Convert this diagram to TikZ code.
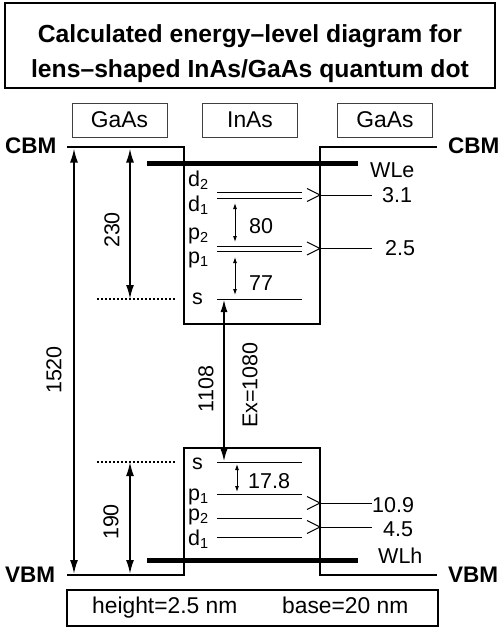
\documentclass[tikz,border=0pt]{standalone}
\usepackage{fontspec}
\setmainfont{Liberation Sans}
\usetikzlibrary{arrows.meta}
\newcommand\lsub[1]{\raisebox{-3pt}{\fontsize{14.5}{14.5}\selectfont #1}}
\begin{document}
\begin{tikzpicture}[x=1pt,y=-1pt,
  txt/.style={inner sep=0pt, font=\fontsize{22.8}{26}\selectfont},
  num/.style={inner sep=0pt, font=\fontsize{21.5}{25}\selectfont},
  lbl/.style={inner sep=0pt, font=\fontsize{21.5}{25}\selectfont, anchor=base west},
  boldlbl/.style={inner sep=0pt, font=\fontsize{22.5}{26}\selectfont\bfseries, anchor=base west},
  titletxt/.style={inner sep=0pt, font=\fontsize{24.7}{28}\selectfont\bfseries, anchor=base},
  band/.style={line width=2pt, line join=miter},
  wl/.style={line width=5pt},
  lev/.style={line width=1pt},
  chev/.style={line width=1pt},
  matbox/.style={draw=black!75, line width=0.8pt, minimum width=95pt, minimum height=34pt, inner sep=0pt, font=\fontsize{22.8}{26}\selectfont},
  bigarrow/.style={line width=1.8pt, {Latex[length=14pt,width=8pt]}-{Latex[length=14pt,width=8pt]}},
  exarrow/.style={line width=1.2pt, {Latex[length=12pt,width=7pt]}-{Latex[length=12pt,width=7pt]}},
  smallarrow/.style={line width=0.9pt, {Latex[length=6pt,width=4pt]}-{Latex[length=6pt,width=4pt]}},
  dotline/.style={line width=1.5pt, dash pattern=on 2pt off 2pt},
]
\useasboundingbox (0,0) rectangle (501,629);

% title
\node[draw, line width=2pt, minimum width=490pt, minimum height=85pt, inner sep=0pt] (titlebox) at (250,45.5) {};
\node[titletxt] (title1) at (250,42) {Calculated energy–level diagram for};
\node[titletxt] (title2) at (250,77) {lens–shaped InAs/GaAs quantum dot};

% material boxes
\node[matbox] (gaasL) at (119.5,120) {GaAs};
\node[matbox] (inas) at (250,120) {InAs};
\node[matbox] (gaasR) at (385,120) {GaAs};

% band edges
\coordinate (cbL) at (67,147);
\coordinate (cbw1) at (184,147);
\coordinate (cbw2) at (184,324);
\coordinate (cbw3) at (320,324);
\coordinate (cbw4) at (320,147);
\coordinate (cbR) at (437,147);
\draw[band] (cbL) -- (cbw1) -- (cbw2) -- (cbw3) -- (cbw4) -- (cbR);

\coordinate (vbL) at (67,575);
\coordinate (vbw1) at (184,575);
\coordinate (vbw2) at (184,448);
\coordinate (vbw3) at (320,448);
\coordinate (vbw4) at (320,575);
\coordinate (vbR) at (437,575);
\draw[band] (vbL) -- (vbw1) -- (vbw2) -- (vbw3) -- (vbw4) -- (vbR);

% wetting layers
\coordinate (wleA) at (147,163); \coordinate (wleB) at (358,163);
\draw[wl] (wleA) -- (wleB);
\coordinate (wlhA) at (147,560); \coordinate (wlhB) at (358,560);
\draw[wl] (wlhA) -- (wlhB);

% CB levels
\foreach \y/\n in {192/cd2,198/cd1,246/cp2,251/cp1,299/cs} {
  \coordinate (\n a) at (217,\y); \coordinate (\n b) at (302,\y);
  \draw[lev] (\n a) -- (\n b);
}
% VB levels
\foreach \y/\n in {462/vs,494/vp1,518/vp2,537/vd1} {
  \coordinate (\n a) at (217,\y); \coordinate (\n b) at (302,\y);
  \draw[lev] (\n a) -- (\n b);
}

% chevrons and leaders
\foreach \y/\n in {195/c31,248.5/c25,503/v109,527/v45} {
  \coordinate (\n t) at (320,\y);
  \coordinate (\n u) at (307,\y-6.5);
  \coordinate (\n d) at (307,\y+6.5);
  \coordinate (\n e) at (372,\y);
  \draw[chev] (\n u) -- (\n t) -- (\n d);
  \draw[chev] (\n t) -- (\n e);
}

% dotted reference lines
\coordinate (dotcA) at (97,299); \coordinate (dotcB) at (176,299);
\draw[dotline] (dotcA) -- (dotcB);
\coordinate (dotvA) at (97,462); \coordinate (dotvB) at (176,462);
\draw[dotline] (dotvA) -- (dotvB);

% dimension arrows
\coordinate (g1) at (74,148.5); \coordinate (g2) at (74,574);
\draw[bigarrow] (g1) -- (g2);
\coordinate (e1) at (130,148.5); \coordinate (e2) at (130,299);
\draw[bigarrow] (e1) -- (e2);
\coordinate (h1) at (130,462); \coordinate (h2) at (130,574);
\draw[bigarrow] (h1) -- (h2);
\coordinate (x1) at (224,300); \coordinate (x2) at (224,461);
\draw[exarrow] (x1) -- (x2);
\coordinate (s80a) at (235,203); \coordinate (s80b) at (235,242);
\draw[smallarrow] (s80a) -- (s80b);
\coordinate (s77a) at (235,257); \coordinate (s77b) at (235,295);
\draw[smallarrow] (s77a) -- (s77b);
\coordinate (s17a) at (237,464); \coordinate (s17b) at (237,492);
\draw[smallarrow] (s17a) -- (s17b);

% side labels
\node[boldlbl] (cbmL) at (5,153) {CBM};
\node[boldlbl] (cbmR) at (448,153) {CBM};
\node[boldlbl] (vbmL) at (5,582) {VBM};
\node[boldlbl] (vbmR) at (448,582) {VBM};

\node[lbl] (wle) at (370,177) {WLe};
\node[lbl] (l31) at (382,202) {3.1};
\node[lbl] (l25) at (385,255) {2.5};
\node[lbl] (wlh) at (378,563) {WLh};
\node[lbl] (l109) at (372,512) {10.9};
\node[lbl] (l45) at (383,536) {4.5};

% level labels
\node[lbl] (ld2) at (188,186) {d\lsub{2}};
\node[lbl] (ld1) at (188,211) {d\lsub{1}};
\node[lbl] (lp2) at (188,239) {p\lsub{2}};
\node[lbl] (lp1) at (188,263) {p\lsub{1}};
\node[lbl] (ls) at (192,304) {s};
\node[lbl] (lvs) at (192,469) {s};
\node[lbl] (lvp1) at (188,500) {p\lsub{1}};
\node[lbl] (lvp2) at (188,520) {p\lsub{2}};
\node[lbl] (lvd1) at (188,545) {d\lsub{1}};

\node[lbl] (n80) at (249,233) {80};
\node[lbl] (n77) at (249,290) {77};
\node[lbl] (n178) at (248,488) {17.8};

% rotated labels
\node[num, rotate=90] (n1520) at (54,370) {1520};
\node[num, rotate=90] (n230) at (112,230) {230};
\node[num, rotate=90] (n190) at (111,522) {190};
\node[num, rotate=90] (n1108) at (206,389) {1108};
\node[num, rotate=90] (nex) at (250,385) {Ex=1080};

% bottom box
\node[draw, line width=1.2pt, minimum width=371pt, minimum height=36pt, inner sep=0pt] (dims) at (252.5,608) {};
\node[txt, anchor=base west] (dh) at (92,613) {height=2.5 nm};
\node[txt, anchor=base west] (db) at (282,613) {base=20 nm};
\end{tikzpicture}
\end{document}
